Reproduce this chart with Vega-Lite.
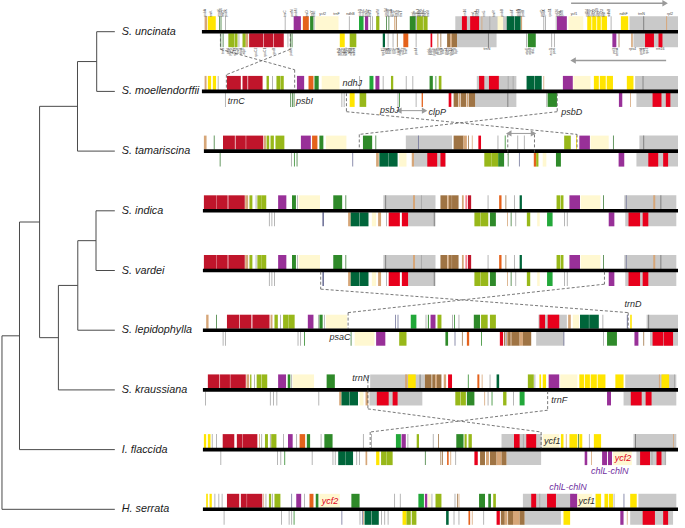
{
  "$schema": "https://vega.github.io/schema/vega-lite/v6.json",
  "width": 685,
  "height": 528,
  "autosize": {"type": "fit", "contains": "padding"},
  "padding": 0,
  "background": "white",
  "config": {"view": {"stroke": null}, "font": "Liberation Sans"},
  "datasets": {
    "species": [
      {"name": "S. uncinata", "t": 1, "tip": 116, "g0": 204, "g1": 685},
      {"name": "S. moellendorffii", "t": 2, "tip": 116, "g0": 204, "g1": 685},
      {"name": "S. tamariscina", "t": 3, "tip": 116, "g0": 206, "g1": 685},
      {"name": "S. indica", "t": 4, "tip": 116, "g0": 205, "g1": 685},
      {"name": "S. vardei", "t": 5, "tip": 116, "g0": 205, "g1": 685},
      {"name": "S. lepidophylla", "t": 6, "tip": 116, "g0": 205, "g1": 685},
      {"name": "S. kraussiana", "t": 7, "tip": 116, "g0": 205, "g1": 685},
      {"name": "I. flaccida", "t": 8, "tip": 116, "g0": 205, "g1": 685},
      {"name": "H. serrata", "t": 9, "tip": 116, "g0": 205, "g1": 685}
    ],
    "tree": [
      {"x1": 97.7, "x2": 116, "y1": 1, "y2": 1},
      {"x1": 97.7, "x2": 116, "y1": 2, "y2": 2},
      {"x1": 78.3, "x2": 116, "y1": 3, "y2": 3},
      {"x1": 97, "x2": 116, "y1": 4, "y2": 4},
      {"x1": 97, "x2": 116, "y1": 5, "y2": 5},
      {"x1": 78.6, "x2": 116, "y1": 6, "y2": 6},
      {"x1": 59, "x2": 116, "y1": 7, "y2": 7},
      {"x1": 19.7, "x2": 116, "y1": 8, "y2": 8},
      {"x1": 2, "x2": 116, "y1": 9, "y2": 9},
      {"x1": 97.7, "x2": 97.7, "y1": 1, "y2": 2},
      {"x1": 78.3, "x2": 78.3, "y1": 1.5, "y2": 3},
      {"x1": 40, "x2": 40, "y1": 2.25, "y2": 6.125},
      {"x1": 97, "x2": 97, "y1": 4, "y2": 5},
      {"x1": 78.6, "x2": 78.6, "y1": 4.5, "y2": 6},
      {"x1": 59, "x2": 59, "y1": 5.25, "y2": 7},
      {"x1": 19.7, "x2": 19.7, "y1": 4.1875, "y2": 8},
      {"x1": 2, "x2": 2, "y1": 6.094, "y2": 9},
      {"x1": 78.3, "x2": 97.7, "y1": 1.5, "y2": 1.5},
      {"x1": 40, "x2": 78.3, "y1": 2.25, "y2": 2.25},
      {"x1": 78.6, "x2": 97, "y1": 4.5, "y2": 4.5},
      {"x1": 59, "x2": 78.6, "y1": 5.25, "y2": 5.25},
      {"x1": 40, "x2": 59, "y1": 6.125, "y2": 6.125},
      {"x1": 19.7, "x2": 40, "y1": 4.1875, "y2": 4.1875},
      {"x1": 2, "x2": 19.7, "y1": 6.094, "y2": 6.094}
    ],
    "genes": [
      {"t":1,"s":"+","c":"ir","a":460,"b":513.3},{"t":1,"s":"+","c":"ir","a":636,"b":685},
      {"t":1,"s":"+","c":"tan","a":206.7,"b":209.3},{"t":1,"s":"+","c":"yellow","a":210,"b":218},{"t":1,"s":"+","c":"dline","a":221.5,"b":222.3},{"t":1,"s":"+","c":"dline","a":222.9,"b":223.7},{"t":1,"s":"+","c":"gline","a":227.5,"b":228.3},{"t":1,"s":"+","c":"gline","a":287.7,"b":288.5},{"t":1,"s":"+","c":"purple","a":296.7,"b":304},{"t":1,"s":"+","c":"orange","a":306,"b":312},{"t":1,"s":"+","c":"green","a":313.3,"b":316.7},{"t":1,"s":"+","c":"gline","a":317,"b":317.8},{"t":1,"s":"+","c":"lyel","a":318.7,"b":342},{"t":1,"s":"+","c":"gline","a":352.5,"b":353.3},{"t":1,"s":"+","c":"lgreen","a":362.7,"b":367.3},{"t":1,"s":"+","c":"purple","a":368.7,"b":372},{"t":1,"s":"+","c":"gline","a":374,"b":374.8},{"t":1,"s":"+","c":"gline","a":376,"b":376.8},{"t":1,"s":"+","c":"ygreen","a":380,"b":383.3},{"t":1,"s":"+","c":"dline","a":390,"b":390.8},{"t":1,"s":"+","c":"dline","a":392.5,"b":393.3},{"t":1,"s":"+","c":"tan","a":398.3,"b":399.3},{"t":1,"s":"+","c":"brown","a":400,"b":400.8},{"t":1,"s":"+","c":"green","a":414,"b":420},{"t":1,"s":"+","c":"gline","a":420.3,"b":421},{"t":1,"s":"+","c":"ygreen","a":421.3,"b":427.3},{"t":1,"s":"+","c":"ygreen","a":427.8,"b":432},{"t":1,"s":"+","c":"red","a":466.7,"b":471.7},{"t":1,"s":"+","c":"red","a":475,"b":484},{"t":1,"s":"+","c":"tan","a":486.5,"b":487.3},{"t":1,"s":"+","c":"gline","a":494.5,"b":495.3},{"t":1,"s":"+","c":"lyel","a":502.7,"b":508.3},{"t":1,"s":"+","c":"dgreen","a":512,"b":519.7},{"t":1,"s":"+","c":"dgreen","a":520,"b":526},{"t":1,"s":"+","c":"tan","a":526.3,"b":527.5},{"t":1,"s":"+","c":"gline","a":549,"b":549.8},{"t":1,"s":"+","c":"gline","a":550.7,"b":551.5},{"t":1,"s":"+","c":"gline","a":561.5,"b":562.3},{"t":1,"s":"+","c":"purple","a":562.7,"b":572.7},{"t":1,"s":"+","c":"lyel","a":574.3,"b":589.3},{"t":1,"s":"+","c":"yellow","a":593.3,"b":597.5},{"t":1,"s":"+","c":"yellow","a":598.3,"b":602.5},{"t":1,"s":"+","c":"yellow","a":603.3,"b":607},{"t":1,"s":"+","c":"yellow","a":607.8,"b":613.3},{"t":1,"s":"+","c":"gline","a":617,"b":617.8},{"t":1,"s":"+","c":"yellow","a":627.3,"b":634.7},{"t":1,"s":"+","c":"gdark","a":650,"b":650.8},{"t":1,"s":"+","c":"tan","a":673,"b":674},
      {"t":1,"s":"-","c":"ir","a":461.7,"b":501.7},{"t":1,"s":"-","c":"ir","a":640,"b":685},
      {"t":1,"s":"-","c":"dline","a":222.7,"b":223.5},{"t":1,"s":"-","c":"dline","a":225,"b":225.8},{"t":1,"s":"-","c":"ygreen","a":230.7,"b":236.7},{"t":1,"s":"-","c":"ygreen","a":237,"b":240},{"t":1,"s":"-","c":"gline","a":241,"b":241.8},{"t":1,"s":"-","c":"ygreen","a":245,"b":248.3},{"t":1,"s":"-","c":"tan","a":248.3,"b":250.7},{"t":1,"s":"-","c":"dred","a":251.7,"b":266},{"t":1,"s":"-","c":"dred","a":266.5,"b":276},{"t":1,"s":"-","c":"dred","a":276.5,"b":286.7},{"t":1,"s":"-","c":"gline","a":290.5,"b":291.3},{"t":1,"s":"-","c":"dline","a":293.3,"b":294.1},{"t":1,"s":"-","c":"dline","a":294.7,"b":295.5},{"t":1,"s":"-","c":"yellow","a":343.3,"b":348.3},{"t":1,"s":"-","c":"ygreen","a":353.3,"b":360},{"t":1,"s":"-","c":"dgreen","a":386.7,"b":389},{"t":1,"s":"-","c":"gline","a":391.7,"b":392.5},{"t":1,"s":"-","c":"gline","a":396.7,"b":397.5},{"t":1,"s":"-","c":"brown","a":401,"b":401.8},{"t":1,"s":"-","c":"orange","a":407.5,"b":412.5},{"t":1,"s":"-","c":"gline","a":420,"b":420.8},{"t":1,"s":"-","c":"red","a":435,"b":436.7},{"t":1,"s":"-","c":"tan","a":441.7,"b":443},{"t":1,"s":"-","c":"brown","a":445,"b":445.8},{"t":1,"s":"-","c":"brown","a":451.7,"b":455},{"t":1,"s":"-","c":"tan","a":455,"b":456.5},{"t":1,"s":"-","c":"brown","a":456.5,"b":461.7},{"t":1,"s":"-","c":"gdark","a":493,"b":493.8},{"t":1,"s":"-","c":"gline","a":531.5,"b":532.3},{"t":1,"s":"-","c":"green","a":533.3,"b":541.3},{"t":1,"s":"-","c":"gline","a":557,"b":557.8},{"t":1,"s":"-","c":"gline","a":559.7,"b":560.5},{"t":1,"s":"-","c":"purple","a":618.7,"b":622.7},{"t":1,"s":"-","c":"brown","a":625,"b":625.8},{"t":1,"s":"-","c":"tan","a":637.7,"b":639.3},{"t":1,"s":"-","c":"red","a":651.7,"b":660.7},{"t":1,"s":"-","c":"red","a":665.3,"b":669.3},
      {"t":2,"s":"+","c":"ir","a":481.7,"b":521.7},{"t":2,"s":"+","c":"ir","a":641.7,"b":685},
      {"t":2,"s":"+","c":"tan","a":206.7,"b":208.7},{"t":2,"s":"+","c":"yellow","a":210,"b":213.3},{"t":2,"s":"+","c":"yellow","a":215,"b":218.3},{"t":2,"s":"+","c":"gline","a":220,"b":220.8},{"t":2,"s":"+","c":"dred","a":229.3,"b":243.3},{"t":2,"s":"+","c":"dred","a":245,"b":250},{"t":2,"s":"+","c":"dred","a":250.7,"b":265.3},{"t":2,"s":"+","c":"ygreen","a":269.3,"b":271.7},{"t":2,"s":"+","c":"gline","a":275,"b":275.8},{"t":2,"s":"+","c":"ygreen","a":279.3,"b":283},{"t":2,"s":"+","c":"ygreen","a":283.3,"b":286.7},{"t":2,"s":"+","c":"purple","a":300,"b":307.3},{"t":2,"s":"+","c":"orange","a":311.7,"b":316.7},{"t":2,"s":"+","c":"green","a":317.7,"b":322},{"t":2,"s":"+","c":"lyel","a":325,"b":343},{"t":2,"s":"+","c":"gline","a":363,"b":363.8},{"t":2,"s":"+","c":"lgreen","a":373.3,"b":377.3},{"t":2,"s":"+","c":"purple","a":379.3,"b":383.3},{"t":2,"s":"+","c":"gline","a":386.7,"b":387.5},{"t":2,"s":"+","c":"ygreen","a":395,"b":397.3},{"t":2,"s":"+","c":"gline","a":410,"b":410.8},{"t":2,"s":"+","c":"gline","a":416.7,"b":417.5},{"t":2,"s":"+","c":"green","a":434,"b":437.3},{"t":2,"s":"+","c":"green","a":440,"b":440.8},{"t":2,"s":"+","c":"ygreen","a":443.3,"b":446},{"t":2,"s":"+","c":"red","a":484,"b":489.3},{"t":2,"s":"+","c":"red","a":494,"b":504},{"t":2,"s":"+","c":"gline","a":513,"b":513.8},{"t":2,"s":"+","c":"gline","a":518,"b":518.8},{"t":2,"s":"+","c":"dgreen","a":532,"b":540},{"t":2,"s":"+","c":"dgreen","a":540.3,"b":547.3},{"t":2,"s":"+","c":"tan","a":549,"b":549.8},{"t":2,"s":"+","c":"purple","a":568.7,"b":578.7},{"t":2,"s":"+","c":"lyel","a":579.3,"b":596.7},{"t":2,"s":"+","c":"yellow","a":600,"b":605},{"t":2,"s":"+","c":"yellow","a":606,"b":612},{"t":2,"s":"+","c":"yellow","a":613,"b":619.3},{"t":2,"s":"+","c":"yellow","a":633.3,"b":640},{"t":2,"s":"+","c":"gdark","a":649.3,"b":650},
      {"t":2,"s":"-","c":"ir","a":480,"b":521.7},{"t":2,"s":"-","c":"ir","a":643,"b":685},
      {"t":2,"s":"-","c":"gline","a":227.3,"b":228.1},{"t":2,"s":"-","c":"dline","a":293.3,"b":294.1},{"t":2,"s":"-","c":"dline","a":295,"b":295.8},{"t":2,"s":"-","c":"dline","a":296.7,"b":297.5},{"t":2,"s":"-","c":"gline","a":345,"b":345.8},{"t":2,"s":"-","c":"gline","a":347.3,"b":348.1},{"t":2,"s":"-","c":"yellow","a":353.3,"b":358.3},{"t":2,"s":"-","c":"ygreen","a":363.3,"b":370},{"t":2,"s":"-","c":"gline","a":401.7,"b":402.5},{"t":2,"s":"-","c":"green","a":403.3,"b":404.1},{"t":2,"s":"-","c":"gline","a":420,"b":420.8},{"t":2,"s":"-","c":"orange","a":426,"b":427.3},{"t":2,"s":"-","c":"red","a":453.3,"b":456},{"t":2,"s":"-","c":"brown","a":458.3,"b":463},{"t":2,"s":"-","c":"tan","a":463.5,"b":465},{"t":2,"s":"-","c":"brown","a":465.5,"b":471},{"t":2,"s":"-","c":"tan","a":471.5,"b":473},{"t":2,"s":"-","c":"brown","a":473.5,"b":480},{"t":2,"s":"-","c":"gdark","a":512.7,"b":513.5},{"t":2,"s":"-","c":"gline","a":552,"b":552.8},{"t":2,"s":"-","c":"green","a":553.3,"b":562.7},{"t":2,"s":"-","c":"purple","a":625.3,"b":628.7},{"t":2,"s":"-","c":"tan","a":636.7,"b":637.5},{"t":2,"s":"-","c":"red","a":659.3,"b":668.3},{"t":2,"s":"-","c":"red","a":672.7,"b":677.3},
      {"t":3,"s":"+","c":"ir","a":410,"b":456.7},{"t":3,"s":"+","c":"ir","a":646,"b":685},
      {"t":3,"s":"+","c":"tan","a":206,"b":208.7},{"t":3,"s":"+","c":"dline","a":216,"b":216.8},{"t":3,"s":"+","c":"dred","a":225.3,"b":237.3},{"t":3,"s":"+","c":"dred","a":238,"b":248.3},{"t":3,"s":"+","c":"dred","a":248.7,"b":266},{"t":3,"s":"+","c":"tan","a":266.7,"b":268.7},{"t":3,"s":"+","c":"ygreen","a":269.3,"b":272},{"t":3,"s":"+","c":"ygreen","a":273.3,"b":276.7},{"t":3,"s":"+","c":"ygreen","a":278.3,"b":287.3},{"t":3,"s":"+","c":"purple","a":304,"b":314},{"t":3,"s":"+","c":"orange","a":315.3,"b":320.7},{"t":3,"s":"+","c":"green","a":322.7,"b":326.7},{"t":3,"s":"+","c":"lyel","a":329.3,"b":350},{"t":3,"s":"+","c":"green","a":366.7,"b":376},{"t":3,"s":"+","c":"dline","a":379.3,"b":380.1},{"t":3,"s":"+","c":"blue","a":422.3,"b":423.1},{"t":3,"s":"+","c":"brown","a":458.3,"b":468.3},{"t":3,"s":"+","c":"tan","a":468.3,"b":471.7},{"t":3,"s":"+","c":"brown","a":473,"b":473.8},{"t":3,"s":"+","c":"tan","a":476.7,"b":477.5},{"t":3,"s":"+","c":"red","a":483.3,"b":486},{"t":3,"s":"+","c":"gline","a":502.7,"b":503.5},{"t":3,"s":"+","c":"green","a":510,"b":510.8},{"t":3,"s":"+","c":"gline","a":522.7,"b":523.5},{"t":3,"s":"+","c":"gline","a":529.3,"b":530.1},{"t":3,"s":"+","c":"ygreen","a":570,"b":576.7},{"t":3,"s":"+","c":"yellow","a":582,"b":582.8},{"t":3,"s":"+","c":"purple","a":585.3,"b":596},{"t":3,"s":"+","c":"lyel","a":596.7,"b":615},{"t":3,"s":"+","c":"dline","a":619.3,"b":620.1},{"t":3,"s":"+","c":"gdark","a":650,"b":650.8},
      {"t":3,"s":"-","c":"ir","a":418.3,"b":450},{"t":3,"s":"-","c":"ir","a":643,"b":685},
      {"t":3,"s":"-","c":"dline","a":222,"b":222.8},{"t":3,"s":"-","c":"gline","a":294,"b":294.8},{"t":3,"s":"-","c":"green","a":297,"b":297.8},{"t":3,"s":"-","c":"dline","a":299.7,"b":300.5},{"t":3,"s":"-","c":"blue","a":356,"b":356.8},{"t":3,"s":"-","c":"tan","a":380,"b":382.7},{"t":3,"s":"-","c":"dgreen","a":383.3,"b":392},{"t":3,"s":"-","c":"dgreen","a":392.3,"b":401.7},{"t":3,"s":"-","c":"lyel","a":403.3,"b":410.7},{"t":3,"s":"-","c":"tan","a":416,"b":418.3},{"t":3,"s":"-","c":"red","a":431.7,"b":441.7},{"t":3,"s":"-","c":"red","a":445,"b":450},{"t":3,"s":"-","c":"ygreen","a":489.3,"b":496.7},{"t":3,"s":"-","c":"ygreen","a":496.7,"b":503.3},{"t":3,"s":"-","c":"green","a":503.3,"b":509.3},{"t":3,"s":"-","c":"dline","a":513,"b":513.8},{"t":3,"s":"-","c":"blue","a":524.3,"b":525.1},{"t":3,"s":"-","c":"orange","a":539.3,"b":541.7},{"t":3,"s":"-","c":"ygreen","a":541.7,"b":544},{"t":3,"s":"-","c":"lyel","a":548.3,"b":552},{"t":3,"s":"-","c":"green","a":561.7,"b":566.7},{"t":3,"s":"-","c":"purple","a":625,"b":630.7},{"t":3,"s":"-","c":"red","a":655,"b":665},{"t":3,"s":"-","c":"red","a":670,"b":675},
      {"t":4,"s":"+","c":"ir","a":387.3,"b":440},{"t":4,"s":"+","c":"ir","a":630.7,"b":683.3},
      {"t":4,"s":"+","c":"dred","a":206,"b":218.3},{"t":4,"s":"+","c":"dred","a":218.6,"b":230},{"t":4,"s":"+","c":"dred","a":230.7,"b":247.3},{"t":4,"s":"+","c":"tan","a":247.7,"b":250.7},{"t":4,"s":"+","c":"ygreen","a":252,"b":255},{"t":4,"s":"+","c":"gline","a":258.3,"b":259.1},{"t":4,"s":"+","c":"ygreen","a":260,"b":264},{"t":4,"s":"+","c":"ygreen","a":264,"b":269},{"t":4,"s":"+","c":"purple","a":281,"b":289.3},{"t":4,"s":"+","c":"green","a":295,"b":299},{"t":4,"s":"+","c":"gline","a":300,"b":300.8},{"t":4,"s":"+","c":"lyel","a":301.7,"b":323.3},{"t":4,"s":"+","c":"green","a":336.7,"b":345.7},{"t":4,"s":"+","c":"dline","a":349,"b":349.8},{"t":4,"s":"+","c":"gdark","a":389.3,"b":390.1},{"t":4,"s":"+","c":"tan","a":417.3,"b":419.3},{"t":4,"s":"+","c":"gline","a":425.3,"b":426.1},{"t":4,"s":"+","c":"brown","a":445,"b":451.7},{"t":4,"s":"+","c":"tan","a":452,"b":453.5},{"t":4,"s":"+","c":"brown","a":453.5,"b":456.5},{"t":4,"s":"+","c":"brown","a":456.7,"b":463.3},{"t":4,"s":"+","c":"tan","a":466.7,"b":468.5},{"t":4,"s":"+","c":"red","a":470.5,"b":471.3},{"t":4,"s":"+","c":"dred","a":472.7,"b":476},{"t":4,"s":"+","c":"gline","a":492.7,"b":493.5},{"t":4,"s":"+","c":"orange","a":504.3,"b":506.7},{"t":4,"s":"+","c":"brown","a":510.7,"b":511.5},{"t":4,"s":"+","c":"gline","a":519.3,"b":520.1},{"t":4,"s":"+","c":"dgreen","a":525,"b":527.3},{"t":4,"s":"+","c":"ygreen","a":562.3,"b":566},{"t":4,"s":"+","c":"ygreen","a":566.5,"b":569.3},{"t":4,"s":"+","c":"purple","a":575.3,"b":586},{"t":4,"s":"+","c":"lyel","a":586.7,"b":606.7},{"t":4,"s":"+","c":"dline","a":609.3,"b":610.1},{"t":4,"s":"+","c":"blue","a":632.3,"b":633.1},{"t":4,"s":"+","c":"tan","a":660,"b":662},{"t":4,"s":"+","c":"gdark","a":667.3,"b":668.1},
      {"t":4,"s":"-","c":"ir","a":412.3,"b":440},{"t":4,"s":"-","c":"ir","a":631.7,"b":683.3},
      {"t":4,"s":"-","c":"gline","a":271.7,"b":272.5},{"t":4,"s":"-","c":"gline","a":274.3,"b":275.1},{"t":4,"s":"-","c":"gline","a":277,"b":277.8},{"t":4,"s":"-","c":"blue","a":325.7,"b":327.3},{"t":4,"s":"-","c":"tan","a":351.7,"b":354.3},{"t":4,"s":"-","c":"dgreen","a":354.3,"b":363.3},{"t":4,"s":"-","c":"dgreen","a":363.6,"b":372.3},{"t":4,"s":"-","c":"lyel","a":375.7,"b":380},{"t":4,"s":"-","c":"tan","a":382,"b":385},{"t":4,"s":"-","c":"gline","a":390,"b":390.8},{"t":4,"s":"-","c":"red","a":392.7,"b":404},{"t":4,"s":"-","c":"red","a":406,"b":412.3},{"t":4,"s":"-","c":"gdark","a":438.3,"b":439.1},{"t":4,"s":"-","c":"ygreen","a":479.3,"b":485},{"t":4,"s":"-","c":"ygreen","a":485.3,"b":493.3},{"t":4,"s":"-","c":"green","a":495,"b":501},{"t":4,"s":"-","c":"tan","a":512.3,"b":513.1},{"t":4,"s":"-","c":"dline","a":516,"b":516.8},{"t":4,"s":"-","c":"gline","a":520.7,"b":521.5},{"t":4,"s":"-","c":"ygreen","a":532.3,"b":535.7},{"t":4,"s":"-","c":"lyel","a":542.7,"b":545.3},{"t":4,"s":"-","c":"lgreen","a":552.7,"b":558.3},{"t":4,"s":"-","c":"gline","a":570,"b":570.8},{"t":4,"s":"-","c":"gline","a":572.7,"b":573.5},{"t":4,"s":"-","c":"purple","a":615,"b":620.7},{"t":4,"s":"-","c":"red","a":635,"b":646.7},{"t":4,"s":"-","c":"red","a":649.3,"b":655},
      {"t":5,"s":"+","c":"ir","a":387.3,"b":440},{"t":5,"s":"+","c":"ir","a":630.7,"b":683.3},
      {"t":5,"s":"+","c":"dred","a":206,"b":218.3},{"t":5,"s":"+","c":"dred","a":218.6,"b":230},{"t":5,"s":"+","c":"dred","a":230.7,"b":247.3},{"t":5,"s":"+","c":"tan","a":247.7,"b":250.7},{"t":5,"s":"+","c":"ygreen","a":252,"b":255},{"t":5,"s":"+","c":"gline","a":258.3,"b":259.1},{"t":5,"s":"+","c":"ygreen","a":260,"b":264},{"t":5,"s":"+","c":"ygreen","a":264,"b":269},{"t":5,"s":"+","c":"purple","a":281,"b":289.3},{"t":5,"s":"+","c":"green","a":295,"b":299},{"t":5,"s":"+","c":"gline","a":300,"b":300.8},{"t":5,"s":"+","c":"lyel","a":301.7,"b":323.3},{"t":5,"s":"+","c":"green","a":336.7,"b":345.7},{"t":5,"s":"+","c":"dline","a":349,"b":349.8},{"t":5,"s":"+","c":"gdark","a":389.3,"b":390.1},{"t":5,"s":"+","c":"tan","a":417.3,"b":419.3},{"t":5,"s":"+","c":"gline","a":425.3,"b":426.1},{"t":5,"s":"+","c":"brown","a":445,"b":451.7},{"t":5,"s":"+","c":"tan","a":452,"b":453.5},{"t":5,"s":"+","c":"brown","a":453.5,"b":456.5},{"t":5,"s":"+","c":"brown","a":456.7,"b":463.3},{"t":5,"s":"+","c":"tan","a":466.7,"b":468.5},{"t":5,"s":"+","c":"red","a":470.5,"b":471.3},{"t":5,"s":"+","c":"dred","a":472.7,"b":476},{"t":5,"s":"+","c":"gline","a":492.7,"b":493.5},{"t":5,"s":"+","c":"orange","a":504.3,"b":506.7},{"t":5,"s":"+","c":"brown","a":510.7,"b":511.5},{"t":5,"s":"+","c":"gline","a":519.3,"b":520.1},{"t":5,"s":"+","c":"dgreen","a":525,"b":527.3},{"t":5,"s":"+","c":"ygreen","a":562.3,"b":566},{"t":5,"s":"+","c":"ygreen","a":566.5,"b":569.3},{"t":5,"s":"+","c":"purple","a":575.3,"b":586},{"t":5,"s":"+","c":"lyel","a":586.7,"b":606.7},{"t":5,"s":"+","c":"dline","a":609.3,"b":610.1},{"t":5,"s":"+","c":"blue","a":632.3,"b":633.1},{"t":5,"s":"+","c":"tan","a":660,"b":662},{"t":5,"s":"+","c":"gdark","a":667.3,"b":668.1},
      {"t":5,"s":"-","c":"ir","a":412.3,"b":440},{"t":5,"s":"-","c":"ir","a":631.7,"b":683.3},
      {"t":5,"s":"-","c":"gline","a":271.7,"b":272.5},{"t":5,"s":"-","c":"gline","a":274.3,"b":275.1},{"t":5,"s":"-","c":"gline","a":277,"b":277.8},{"t":5,"s":"-","c":"blue","a":325.7,"b":327.3},{"t":5,"s":"-","c":"tan","a":351.7,"b":354.3},{"t":5,"s":"-","c":"dgreen","a":354.3,"b":363.3},{"t":5,"s":"-","c":"dgreen","a":363.6,"b":372.3},{"t":5,"s":"-","c":"lyel","a":375.7,"b":380},{"t":5,"s":"-","c":"tan","a":382,"b":385},{"t":5,"s":"-","c":"gline","a":390,"b":390.8},{"t":5,"s":"-","c":"red","a":392.7,"b":404},{"t":5,"s":"-","c":"red","a":406,"b":412.3},{"t":5,"s":"-","c":"gdark","a":438.3,"b":439.1},{"t":5,"s":"-","c":"ygreen","a":479.3,"b":485},{"t":5,"s":"-","c":"ygreen","a":485.3,"b":493.3},{"t":5,"s":"-","c":"green","a":495,"b":501},{"t":5,"s":"-","c":"tan","a":512.3,"b":513.1},{"t":5,"s":"-","c":"dline","a":516,"b":516.8},{"t":5,"s":"-","c":"gline","a":520.7,"b":521.5},{"t":5,"s":"-","c":"ygreen","a":532.3,"b":535.7},{"t":5,"s":"-","c":"lyel","a":542.7,"b":545.3},{"t":5,"s":"-","c":"lgreen","a":552.7,"b":558.3},{"t":5,"s":"-","c":"gline","a":570,"b":570.8},{"t":5,"s":"-","c":"gline","a":572.7,"b":573.5},{"t":5,"s":"-","c":"purple","a":615,"b":620.7},{"t":5,"s":"-","c":"red","a":635,"b":646.7},{"t":5,"s":"-","c":"red","a":649.3,"b":655},
      {"t":6,"s":"+","c":"ir","a":544,"b":572.7},{"t":6,"s":"+","c":"ir","a":653.3,"b":685},
      {"t":6,"s":"+","c":"tan","a":208.3,"b":210.7},{"t":6,"s":"+","c":"dline","a":218.3,"b":219.1},{"t":6,"s":"+","c":"dred","a":229.3,"b":241.7},{"t":6,"s":"+","c":"dred","a":242.3,"b":254},{"t":6,"s":"+","c":"dred","a":255,"b":272.3},{"t":6,"s":"+","c":"tan","a":273.3,"b":275.3},{"t":6,"s":"+","c":"ygreen","a":277.3,"b":280.7},{"t":6,"s":"+","c":"gline","a":283,"b":283.8},{"t":6,"s":"+","c":"ygreen","a":286,"b":291.7},{"t":6,"s":"+","c":"ygreen","a":292,"b":297.7},{"t":6,"s":"+","c":"purple","a":311,"b":316.7},{"t":6,"s":"+","c":"gline","a":321.5,"b":322.3},{"t":6,"s":"+","c":"green","a":322.7,"b":326},{"t":6,"s":"+","c":"gline","a":327.3,"b":328.1},{"t":6,"s":"+","c":"lyel","a":329.3,"b":350.7},{"t":6,"s":"+","c":"blue","a":399.3,"b":400.1},{"t":6,"s":"+","c":"blue","a":401.7,"b":402.5},{"t":6,"s":"+","c":"lgreen","a":415,"b":420.7},{"t":6,"s":"+","c":"gline","a":430,"b":430.8},{"t":6,"s":"+","c":"green","a":432.3,"b":433.3},{"t":6,"s":"+","c":"purple","a":435,"b":440},{"t":6,"s":"+","c":"ygreen","a":442,"b":446},{"t":6,"s":"+","c":"gline","a":456.7,"b":457.5},{"t":6,"s":"+","c":"green","a":458.7,"b":459.5},{"t":6,"s":"+","c":"gline","a":463.3,"b":464.1},{"t":6,"s":"+","c":"green","a":478.7,"b":485},{"t":6,"s":"+","c":"ygreen","a":486,"b":492.7},{"t":6,"s":"+","c":"ygreen","a":495,"b":501},{"t":6,"s":"+","c":"red","a":545,"b":550.7},{"t":6,"s":"+","c":"red","a":553.3,"b":565},{"t":6,"s":"+","c":"tan","a":574,"b":576.7},{"t":6,"s":"+","c":"lyel","a":578.7,"b":585},{"t":6,"s":"+","c":"dgreen","a":586,"b":595},{"t":6,"s":"+","c":"dgreen","a":595.3,"b":605},{"t":6,"s":"+","c":"gline","a":608.7,"b":609.5},{"t":6,"s":"+","c":"blue","a":633.3,"b":634.3},{"t":6,"s":"+","c":"yellow","a":636.7,"b":638.3},{"t":6,"s":"+","c":"gdark","a":655,"b":655.8},
      {"t":6,"s":"-","c":"ir","a":541.7,"b":570},{"t":6,"s":"-","c":"ir","a":656.7,"b":685},
      {"t":6,"s":"-","c":"gline","a":225,"b":225.8},{"t":6,"s":"-","c":"gline","a":227.3,"b":228.1},{"t":6,"s":"-","c":"gline","a":300.7,"b":301.5},{"t":6,"s":"-","c":"gline","a":303.3,"b":304.1},{"t":6,"s":"-","c":"green","a":307.3,"b":308.1},{"t":6,"s":"-","c":"dline","a":354.3,"b":355.1},{"t":6,"s":"-","c":"lyel","a":358.3,"b":378.3},{"t":6,"s":"-","c":"purple","a":380,"b":389.3},{"t":6,"s":"-","c":"ygreen","a":403.3,"b":410.7},{"t":6,"s":"-","c":"green","a":450,"b":452.7},{"t":6,"s":"-","c":"blue","a":459.3,"b":460.1},{"t":6,"s":"-","c":"brown","a":466.7,"b":467.5},{"t":6,"s":"-","c":"orange","a":471.7,"b":474},{"t":6,"s":"-","c":"green","a":486,"b":486.8},{"t":6,"s":"-","c":"red","a":505,"b":508.3},{"t":6,"s":"-","c":"brown","a":509.3,"b":510.5},{"t":6,"s":"-","c":"blue","a":511,"b":511.8},{"t":6,"s":"-","c":"tan","a":512,"b":513.3},{"t":6,"s":"-","c":"brown","a":513.3,"b":516},{"t":6,"s":"-","c":"tan","a":516,"b":516.7},{"t":6,"s":"-","c":"brown","a":516.7,"b":525},{"t":6,"s":"-","c":"tan","a":525,"b":528.3},{"t":6,"s":"-","c":"brown","a":528.3,"b":536.7},{"t":6,"s":"-","c":"blue","a":569.3,"b":570.1},{"t":6,"s":"-","c":"gline","a":609.3,"b":610.1},{"t":6,"s":"-","c":"green","a":613.3,"b":623.3},{"t":6,"s":"-","c":"purple","a":641,"b":645},{"t":6,"s":"-","c":"brown","a":650,"b":650.8},{"t":6,"s":"-","c":"red","a":659.3,"b":670},{"t":6,"s":"-","c":"red","a":670.5,"b":680},
      {"t":7,"s":"+","c":"ir","a":374,"b":429.3},{"t":7,"s":"+","c":"ir","a":631.7,"b":683.3},
      {"t":7,"s":"+","c":"dred","a":210,"b":221.7},{"t":7,"s":"+","c":"dred","a":222.3,"b":232.3},{"t":7,"s":"+","c":"dred","a":232.7,"b":248.3},{"t":7,"s":"+","c":"tan","a":249,"b":251.7},{"t":7,"s":"+","c":"ygreen","a":252.7,"b":254},{"t":7,"s":"+","c":"gline","a":256.7,"b":257.5},{"t":7,"s":"+","c":"ygreen","a":259.3,"b":264},{"t":7,"s":"+","c":"ygreen","a":264.3,"b":270},{"t":7,"s":"+","c":"purple","a":281,"b":289},{"t":7,"s":"+","c":"green","a":290.7,"b":293.3},{"t":7,"s":"+","c":"gline","a":294.3,"b":295.1},{"t":7,"s":"+","c":"lyel","a":295.7,"b":317.3},{"t":7,"s":"+","c":"green","a":330,"b":338.3},{"t":7,"s":"+","c":"tan","a":409.3,"b":411.7},{"t":7,"s":"+","c":"yellow","a":412.3,"b":420},{"t":7,"s":"+","c":"gdark","a":424,"b":424.8},{"t":7,"s":"+","c":"brown","a":429.3,"b":436},{"t":7,"s":"+","c":"brown","a":436.7,"b":440},{"t":7,"s":"+","c":"tan","a":440,"b":441.5},{"t":7,"s":"+","c":"brown","a":441.5,"b":446},{"t":7,"s":"+","c":"tan","a":448.3,"b":450.7},{"t":7,"s":"+","c":"red","a":452.7,"b":456.7},{"t":7,"s":"+","c":"green","a":472.7,"b":473.5},{"t":7,"s":"+","c":"orange","a":482.3,"b":484.3},{"t":7,"s":"+","c":"tan","a":486.7,"b":487.5},{"t":7,"s":"+","c":"gline","a":494.7,"b":495.5},{"t":7,"s":"+","c":"dgreen","a":501.7,"b":504.3},{"t":7,"s":"+","c":"ygreen","a":533.3,"b":539.3},{"t":7,"s":"+","c":"gline","a":540,"b":540.8},{"t":7,"s":"+","c":"yellow","a":545,"b":546.7},{"t":7,"s":"+","c":"yellow","a":548.3,"b":551.7},{"t":7,"s":"+","c":"purple","a":554.3,"b":565},{"t":7,"s":"+","c":"lyel","a":566,"b":583.3},{"t":7,"s":"+","c":"yellow","a":585.3,"b":590},{"t":7,"s":"+","c":"yellow","a":590.8,"b":596},{"t":7,"s":"+","c":"yellow","a":596.8,"b":603},{"t":7,"s":"+","c":"yellow","a":603.8,"b":611.7},{"t":7,"s":"+","c":"yellow","a":621.7,"b":630},{"t":7,"s":"+","c":"tan","a":665.7,"b":666.7},{"t":7,"s":"+","c":"yellow","a":668.3,"b":676},{"t":7,"s":"+","c":"gline","a":681,"b":681.8},
      {"t":7,"s":"-","c":"ir","a":373.3,"b":426.7},{"t":7,"s":"-","c":"ir","a":630,"b":683.3},
      {"t":7,"s":"-","c":"gline","a":207.3,"b":208.1},{"t":7,"s":"-","c":"gline","a":272.7,"b":273.5},{"t":7,"s":"-","c":"gline","a":276,"b":276.8},{"t":7,"s":"-","c":"gline","a":279.3,"b":280.1},{"t":7,"s":"-","c":"gline","a":321.7,"b":322.5},{"t":7,"s":"-","c":"tan","a":342.7,"b":345},{"t":7,"s":"-","c":"dgreen","a":345,"b":352.7},{"t":7,"s":"-","c":"dgreen","a":353,"b":361.7},{"t":7,"s":"-","c":"lyel","a":363.3,"b":367.3},{"t":7,"s":"-","c":"tan","a":369.3,"b":372},{"t":7,"s":"-","c":"red","a":380.7,"b":392.7},{"t":7,"s":"-","c":"red","a":396.7,"b":401.7},{"t":7,"s":"-","c":"ygreen","a":460,"b":465},{"t":7,"s":"-","c":"ygreen","a":465.3,"b":470.7},{"t":7,"s":"-","c":"green","a":471.7,"b":479.3},{"t":7,"s":"-","c":"tan","a":489.3,"b":490.1},{"t":7,"s":"-","c":"gline","a":492.7,"b":493.5},{"t":7,"s":"-","c":"green","a":496.7,"b":497.5},{"t":7,"s":"-","c":"ygreen","a":508.3,"b":511.7},{"t":7,"s":"-","c":"gline","a":518.3,"b":519.1},{"t":7,"s":"-","c":"lgreen","a":525,"b":530},{"t":7,"s":"-","c":"purple","a":613.3,"b":617.3},{"t":7,"s":"-","c":"red","a":637.3,"b":648.3},{"t":7,"s":"-","c":"red","a":652.3,"b":658.3},
      {"t":8,"s":"+","c":"ir","a":506.7,"b":547.3},{"t":8,"s":"+","c":"ir","a":640,"b":683.3},
      {"t":8,"s":"+","c":"yellow","a":206,"b":208.3},{"t":8,"s":"+","c":"yellow","a":210,"b":212.7},{"t":8,"s":"+","c":"gline","a":214,"b":214.8},{"t":8,"s":"+","c":"gline","a":218.3,"b":219.1},{"t":8,"s":"+","c":"dred","a":225,"b":236.7},{"t":8,"s":"+","c":"dred","a":239.3,"b":245},{"t":8,"s":"+","c":"dred","a":245.3,"b":260},{"t":8,"s":"+","c":"tan","a":261.7,"b":262.5},{"t":8,"s":"+","c":"gline","a":264,"b":264.8},{"t":8,"s":"+","c":"ygreen","a":267.7,"b":270.7},{"t":8,"s":"+","c":"gline","a":272.7,"b":273.5},{"t":8,"s":"+","c":"ygreen","a":274,"b":279.3},{"t":8,"s":"+","c":"gline","a":286,"b":286.8},{"t":8,"s":"+","c":"purple","a":291,"b":295.7},{"t":8,"s":"+","c":"gline","a":299.3,"b":300.1},{"t":8,"s":"+","c":"orange","a":302.7,"b":308.3},{"t":8,"s":"+","c":"green","a":310,"b":313.3},{"t":8,"s":"+","c":"gline","a":324,"b":324.8},{"t":8,"s":"+","c":"green","a":327.7,"b":336},{"t":8,"s":"+","c":"gline","a":366.7,"b":367.5},{"t":8,"s":"+","c":"gline","a":375,"b":375.8},{"t":8,"s":"+","c":"lgreen","a":400,"b":405},{"t":8,"s":"+","c":"purple","a":405.7,"b":410},{"t":8,"s":"+","c":"gline","a":411.7,"b":412.5},{"t":8,"s":"+","c":"ygreen","a":421,"b":423.3},{"t":8,"s":"+","c":"gline","a":437.3,"b":438.1},{"t":8,"s":"+","c":"brown","a":442.7,"b":443.5},{"t":8,"s":"+","c":"green","a":461,"b":468.3},{"t":8,"s":"+","c":"ygreen","a":469.3,"b":471.5},{"t":8,"s":"+","c":"ygreen","a":473.3,"b":476.7},{"t":8,"s":"+","c":"red","a":519.3,"b":525},{"t":8,"s":"+","c":"gline","a":528.3,"b":529.1},{"t":8,"s":"+","c":"red","a":531.7,"b":541.7},{"t":8,"s":"+","c":"lyel","a":548.3,"b":565},{"t":8,"s":"+","c":"yellow","a":566.7,"b":569.3},{"t":8,"s":"+","c":"tan","a":571.7,"b":572.5},{"t":8,"s":"+","c":"yellow","a":575.3,"b":583.3},{"t":8,"s":"+","c":"dline","a":584,"b":584.8},{"t":8,"s":"+","c":"yellow","a":585.3,"b":588.3},{"t":8,"s":"+","c":"gline","a":595,"b":595.8},{"t":8,"s":"+","c":"yellow","a":600,"b":607.3},{"t":8,"s":"+","c":"gdark","a":641.7,"b":642.5},{"t":8,"s":"+","c":"tan","a":680,"b":680.8},
      {"t":8,"s":"-","c":"ir","a":511.7,"b":546.7},{"t":8,"s":"-","c":"ir","a":643,"b":673},
      {"t":8,"s":"-","c":"gline","a":222.7,"b":223.5},{"t":8,"s":"-","c":"gline","a":280,"b":280.8},{"t":8,"s":"-","c":"gline","a":283.3,"b":284.1},{"t":8,"s":"-","c":"green","a":287.3,"b":288.1},{"t":8,"s":"-","c":"gline","a":315,"b":315.8},{"t":8,"s":"-","c":"gline","a":336,"b":336.8},{"t":8,"s":"-","c":"gline","a":338.3,"b":339.1},{"t":8,"s":"-","c":"dgreen","a":341.7,"b":349.3},{"t":8,"s":"-","c":"dgreen","a":349.6,"b":356.7},{"t":8,"s":"-","c":"gline","a":360,"b":360.8},{"t":8,"s":"-","c":"gline","a":362.7,"b":363.5},{"t":8,"s":"-","c":"tan","a":369.3,"b":371},{"t":8,"s":"-","c":"yellow","a":380,"b":383.3},{"t":8,"s":"-","c":"ygreen","a":385,"b":390.7},{"t":8,"s":"-","c":"ygreen","a":391,"b":396.7},{"t":8,"s":"-","c":"dline","a":429.3,"b":430.1},{"t":8,"s":"-","c":"brown","a":445,"b":445.8},{"t":8,"s":"-","c":"brown","a":446.7,"b":447.5},{"t":8,"s":"-","c":"orange","a":451.7,"b":453.3},{"t":8,"s":"-","c":"tan","a":455,"b":455.8},{"t":8,"s":"-","c":"gline","a":460,"b":460.8},{"t":8,"s":"-","c":"red","a":479.3,"b":482.7},{"t":8,"s":"-","c":"brown","a":485,"b":490},{"t":8,"s":"-","c":"tan","a":491,"b":494},{"t":8,"s":"-","c":"brown","a":495,"b":501.7},{"t":8,"s":"-","c":"tan","a":501.7,"b":506.7},{"t":8,"s":"-","c":"brown","a":506.7,"b":511.7},{"t":8,"s":"-","c":"purple","a":590.7,"b":593.3},{"t":8,"s":"-","c":"tan","a":597.3,"b":598.1},{"t":8,"s":"-","c":"purple","a":608.3,"b":613.3},{"t":8,"s":"-","c":"purple","a":614.3,"b":618.3},{"t":8,"s":"-","c":"lyel","a":619.3,"b":638.3},{"t":8,"s":"-","c":"red","a":646.7,"b":656.7},{"t":8,"s":"-","c":"gline","a":658.3,"b":659.1},{"t":8,"s":"-","c":"red","a":663.3,"b":668.3},{"t":8,"s":"-","c":"gline","a":671.7,"b":672.5},
      {"t":9,"s":"+","c":"ir","a":528.3,"b":580},{"t":9,"s":"+","c":"ir","a":645,"b":683.3},
      {"t":9,"s":"+","c":"yellow","a":208.3,"b":210},{"t":9,"s":"+","c":"yellow","a":211.7,"b":214},{"t":9,"s":"+","c":"gline","a":216.7,"b":217.5},{"t":9,"s":"+","c":"gline","a":220.7,"b":221.5},{"t":9,"s":"+","c":"gline","a":224,"b":224.8},{"t":9,"s":"+","c":"dred","a":229.3,"b":241.7},{"t":9,"s":"+","c":"dred","a":243.3,"b":249.3},{"t":9,"s":"+","c":"dred","a":249.6,"b":265},{"t":9,"s":"+","c":"tan","a":266,"b":266.8},{"t":9,"s":"+","c":"gline","a":268.3,"b":269.1},{"t":9,"s":"+","c":"ygreen","a":271.7,"b":274},{"t":9,"s":"+","c":"gline","a":275,"b":275.8},{"t":9,"s":"+","c":"ygreen","a":277.3,"b":283.3},{"t":9,"s":"+","c":"blue","a":294.3,"b":295.1},{"t":9,"s":"+","c":"purple","a":299.3,"b":304.3},{"t":9,"s":"+","c":"gline","a":307.3,"b":308.1},{"t":9,"s":"+","c":"orange","a":312.7,"b":316.7},{"t":9,"s":"+","c":"green","a":319,"b":321.7},{"t":9,"s":"+","c":"lyel","a":322.7,"b":343.3},{"t":9,"s":"+","c":"green","a":355,"b":363.3},{"t":9,"s":"+","c":"gline","a":398.3,"b":399.1},{"t":9,"s":"+","c":"gline","a":404,"b":404.8},{"t":9,"s":"+","c":"lgreen","a":422.7,"b":428.3},{"t":9,"s":"+","c":"purple","a":429.3,"b":431.7},{"t":9,"s":"+","c":"lyel","a":432.3,"b":435},{"t":9,"s":"+","c":"gline","a":436,"b":436.8},{"t":9,"s":"+","c":"ygreen","a":440,"b":446},{"t":9,"s":"+","c":"gline","a":459.3,"b":460.1},{"t":9,"s":"+","c":"brown","a":461.7,"b":462.5},{"t":9,"s":"+","c":"tan","a":463.3,"b":464.1},{"t":9,"s":"+","c":"green","a":484,"b":490},{"t":9,"s":"+","c":"green","a":493.3,"b":496},{"t":9,"s":"+","c":"ygreen","a":498.3,"b":501},{"t":9,"s":"+","c":"red","a":536.7,"b":541.7},{"t":9,"s":"+","c":"gline","a":545,"b":545.8},{"t":9,"s":"+","c":"red","a":552.7,"b":561.7},{"t":9,"s":"+","c":"purple","a":576,"b":583.3},{"t":9,"s":"+","c":"lyel","a":583.3,"b":598.3},{"t":9,"s":"+","c":"yellow","a":601.7,"b":607.3},{"t":9,"s":"+","c":"yellow","a":610.7,"b":614.5},{"t":9,"s":"+","c":"yellow","a":615.3,"b":619.3},{"t":9,"s":"+","c":"gline","a":620,"b":620.8},{"t":9,"s":"+","c":"blue","a":630,"b":630.8},{"t":9,"s":"+","c":"yellow","a":636.7,"b":643.3},
      {"t":9,"s":"-","c":"ir","a":530,"b":566.7},{"t":9,"s":"-","c":"ir","a":636.7,"b":680},
      {"t":9,"s":"-","c":"gline","a":226,"b":226.8},{"t":9,"s":"-","c":"gline","a":284,"b":284.8},{"t":9,"s":"-","c":"gline","a":291.7,"b":292.5},{"t":9,"s":"-","c":"gline","a":294.3,"b":295.1},{"t":9,"s":"-","c":"green","a":296.7,"b":297.5},{"t":9,"s":"-","c":"blue","a":345,"b":345.8},{"t":9,"s":"-","c":"gline","a":363.3,"b":364.1},{"t":9,"s":"-","c":"blue","a":365.7,"b":366.5},{"t":9,"s":"-","c":"tan","a":366.9,"b":367.7},{"t":9,"s":"-","c":"dgreen","a":368.3,"b":375},{"t":9,"s":"-","c":"dgreen","a":375.3,"b":382.7},{"t":9,"s":"-","c":"gline","a":385,"b":385.8},{"t":9,"s":"-","c":"gline","a":388.3,"b":389.1},{"t":9,"s":"-","c":"gline","a":391.7,"b":392.5},{"t":9,"s":"-","c":"yellow","a":406.7,"b":410.7},{"t":9,"s":"-","c":"ygreen","a":410.7,"b":415},{"t":9,"s":"-","c":"ygreen","a":416,"b":420.7},{"t":9,"s":"-","c":"dgreen","a":450.7,"b":453.3},{"t":9,"s":"-","c":"gline","a":458.3,"b":459.1},{"t":9,"s":"-","c":"gline","a":463.3,"b":464.1},{"t":9,"s":"-","c":"orange","a":473.3,"b":475},{"t":9,"s":"-","c":"tan","a":476.7,"b":477.5},{"t":9,"s":"-","c":"gline","a":488.3,"b":489.1},{"t":9,"s":"-","c":"red","a":501.7,"b":505},{"t":9,"s":"-","c":"brown","a":506,"b":510},{"t":9,"s":"-","c":"tan","a":510,"b":512.7},{"t":9,"s":"-","c":"brown","a":513.3,"b":518.3},{"t":9,"s":"-","c":"tan","a":518.3,"b":525},{"t":9,"s":"-","c":"brown","a":525,"b":530},{"t":9,"s":"-","c":"yellow","a":569.3,"b":576},{"t":9,"s":"-","c":"purple","a":626.7,"b":630},{"t":9,"s":"-","c":"tan","a":633.3,"b":634.1},{"t":9,"s":"-","c":"red","a":649.3,"b":661.7},{"t":9,"s":"-","c":"red","a":670,"b":675}
    ],
    "links": [
      {"x1": 222.7, "x2": 222.7, "y1": 1.03, "y2": 1.295},
      {"x1": 293.3, "x2": 293.3, "y1": 1.03, "y2": 1.295},
      {"x1": 222.7, "x2": 297.7, "y1": 1.295, "y2": 1.637},
      {"x1": 293.3, "x2": 228.7, "y1": 1.295, "y2": 1.72},
      {"x1": 228.7, "x2": 228.7, "y1": 1.72, "y2": 1.97},
      {"x1": 297.7, "x2": 297.7, "y1": 1.637, "y2": 1.97},
      {"x1": 350, "x2": 350, "y1": 2.03, "y2": 2.34},
      {"x1": 563, "x2": 563, "y1": 2.03, "y2": 2.34},
      {"x1": 350, "x2": 583, "y1": 2.34, "y2": 2.72},
      {"x1": 563, "x2": 363, "y1": 2.34, "y2": 2.72},
      {"x1": 363, "x2": 363, "y1": 2.72, "y2": 2.97},
      {"x1": 583, "x2": 583, "y1": 2.72, "y2": 2.97},
      {"x1": 513, "x2": 513, "y1": 2.72, "y2": 3.06},
      {"x1": 540, "x2": 540, "y1": 2.72, "y2": 3.06},
      {"x1": 324, "x2": 324, "y1": 5.02, "y2": 5.312},
      {"x1": 610.7, "x2": 610.7, "y1": 5.02, "y2": 5.229},
      {"x1": 324, "x2": 634.7, "y1": 5.312, "y2": 5.705},
      {"x1": 610.7, "x2": 351.7, "y1": 5.229, "y2": 5.705},
      {"x1": 351.7, "x2": 351.7, "y1": 5.705, "y2": 5.98},
      {"x1": 634.7, "x2": 634.7, "y1": 5.705, "y2": 5.98},
      {"x1": 371.7, "x2": 371.7, "y1": 6.754, "y2": 7.318},
      {"x1": 553.3, "x2": 553.3, "y1": 7.02, "y2": 7.34},
      {"x1": 371.7, "x2": 546.7, "y1": 7.318, "y2": 7.705},
      {"x1": 553.3, "x2": 374, "y1": 7.34, "y2": 7.705},
      {"x1": 374, "x2": 374, "y1": 7.705, "y2": 7.98},
      {"x1": 546.7, "x2": 546.7, "y1": 7.705, "y2": 7.98}
    ],
    "arrows": [
      {"a": 577, "b": 672, "t": 0.524, "dir": "r", "w": 1.5},
      {"a": 579, "b": 673, "t": 1.482, "dir": "l", "w": 1.5},
      {"a": 403, "b": 429, "t": 2.322, "dir": "both", "w": 1},
      {"a": 514, "b": 539, "t": 2.704, "dir": "both", "w": 1}
    ],
    "notes": [
      {"x": 230, "t": 2.156, "txt": "trnC", "k": "k"},
      {"x": 299, "t": 2.156, "txt": "psbI", "k": "k"},
      {"x": 346, "t": 1.854, "txt": "ndhJ", "k": "k"},
      {"x": 384, "t": 2.305, "txt": "psbJ", "k": "k"},
      {"x": 433, "t": 2.34, "txt": "clpP", "k": "k"},
      {"x": 567, "t": 2.34, "txt": "psbD", "k": "k"},
      {"x": 631, "t": 5.559, "txt": "trnD", "k": "k"},
      {"x": 333, "t": 6.112, "txt": "psaC", "k": "k"},
      {"x": 356, "t": 6.804, "txt": "trnN", "k": "k"},
      {"x": 557, "t": 7.173, "txt": "trnF", "k": "k"},
      {"x": 549.5, "t": 7.861, "txt": "ycf1", "k": "k"},
      {"x": 621, "t": 8.146, "txt": "ycf2", "k": "r"},
      {"x": 597, "t": 8.363, "txt": "chlL-chlN", "k": "p"},
      {"x": 325, "t": 8.861, "txt": "ycf2", "k": "r"},
      {"x": 555, "t": 8.626, "txt": "chlL-chlN", "k": "p"},
      {"x": 584.5, "t": 8.861, "txt": "ycf1", "k": "k"}
    ],
    "tiny": [
      {"x":207,"p":"a","n":"psbA"},{"x":213,"p":"a","n":"trnK"},{"x":221,"p":"a","n":"matK"},{"x":223.5,"p":"a","n":"rps16"},{"x":225.7,"p":"a","n":"trnQ"},{"x":227.9,"p":"a","n":"psbK"},{"x":287.8,"p":"a","n":"trnC"},{"x":295,"p":"a","n":"petN"},{"x":299,"p":"a","n":"psbM"},{"x":310,"p":"a","n":"trnD"},{"x":315,"p":"a","n":"trnY"},{"x":317.2,"p":"a","n":"trnE"},{"x":364,"p":"a","n":"psbD"},{"x":366.5,"p":"a","n":"psbC"},{"x":369.5,"p":"a","n":"trnS"},{"x":371.8,"p":"a","n":"psbZ"},{"x":374.1,"p":"a","n":"trnG"},{"x":382,"p":"a","n":"trnfM"},{"x":390,"p":"a","n":"rps14"},{"x":392.5,"p":"a","n":"psaB"},{"x":395,"p":"a","n":"psaA"},{"x":397.5,"p":"a","n":"ycf3"},{"x":400,"p":"a","n":"trnS"},{"x":402.5,"p":"a","n":"rps4"},{"x":405,"p":"a","n":"trnT"},{"x":417,"p":"a","n":"trnL"},{"x":419.5,"p":"a","n":"trnF"},{"x":422,"p":"a","n":"ndhJ"},{"x":424.5,"p":"a","n":"ndhK"},{"x":427,"p":"a","n":"ndhC"},{"x":429.5,"p":"a","n":"trnV"},{"x":432,"p":"a","n":"trnM"},{"x":470,"p":"a","n":"rrn16"},{"x":478,"p":"a","n":"trnI"},{"x":480.5,"p":"a","n":"trnA"},{"x":483,"p":"a","n":"rrn23"},{"x":489,"p":"a","n":"rrn5"},{"x":499,"p":"a","n":"trnR"},{"x":507,"p":"a","n":"psbB"},{"x":517,"p":"a","n":"psbT"},{"x":523,"p":"a","n":"psbN"},{"x":525.5,"p":"a","n":"psbH"},{"x":528,"p":"a","n":"petB"},{"x":547.5,"p":"a","n":"petD"},{"x":550,"p":"a","n":"rpoA"},{"x":555.5,"p":"a","n":"rps11"},{"x":563,"p":"a","n":"rpl36"},{"x":565.5,"p":"a","n":"infA"},{"x":568,"p":"a","n":"rps8"},{"x":593,"p":"a","n":"rpl14"},{"x":595.5,"p":"a","n":"rpl16"},{"x":598,"p":"a","n":"rps3"},{"x":600.5,"p":"a","n":"rpl22"},{"x":603,"p":"a","n":"rps19"},{"x":605.5,"p":"a","n":"rpl2"},{"x":608,"p":"a","n":"rpl23"},{"x":610.5,"p":"a","n":"trnI"},{"x":615,"p":"a","n":"ndhB"},
      {"x":225,"p":"b","n":"trnS"},{"x":230,"p":"b","n":"psbI"},{"x":232.5,"p":"b","n":"psbK"},{"x":235,"p":"b","n":"trnQ"},{"x":237.5,"p":"b","n":"rps16"},{"x":240,"p":"b","n":"trnR"},{"x":243,"p":"b","n":"atpA"},{"x":247,"p":"b","n":"atpF"},{"x":259,"p":"b","n":"rpoC2"},{"x":268,"p":"b","n":"rpoC1"},{"x":277,"p":"b","n":"rpoB"},{"x":294,"p":"b","n":"psbK"},{"x":342,"p":"b","n":"ndhD"},{"x":345,"p":"b","n":"psaC"},{"x":347.5,"p":"b","n":"ndhE"},{"x":350,"p":"b","n":"ndhG"},{"x":352.5,"p":"b","n":"ndhI"},{"x":355,"p":"b","n":"ndhA"},{"x":357.5,"p":"b","n":"ndhH"},{"x":387,"p":"b","n":"rps15"},{"x":389.5,"p":"b","n":"chlB"},{"x":392,"p":"b","n":"trnN"},{"x":394.5,"p":"b","n":"trnR"},{"x":397,"p":"b","n":"rrn5"},{"x":399.5,"p":"b","n":"trnL"},{"x":402,"p":"b","n":"ccsA"},{"x":404.5,"p":"b","n":"ndhF"},{"x":407,"p":"b","n":"rpl32"},{"x":410,"p":"b","n":"trnP"},{"x":420,"p":"b","n":"psbJ"},{"x":433,"p":"b","n":"psbL"},{"x":435.5,"p":"b","n":"psbF"},{"x":438,"p":"b","n":"psbE"},{"x":440.5,"p":"b","n":"petL"},{"x":443,"p":"b","n":"petG"},{"x":445.5,"p":"b","n":"trnW"},{"x":448,"p":"b","n":"trnP"},{"x":450.5,"p":"b","n":"psaJ"},{"x":453,"p":"b","n":"rpl33"},{"x":455.5,"p":"b","n":"rps18"},{"x":458,"p":"b","n":"rpl20"},{"x":460.5,"p":"b","n":"clpP"},{"x":532,"p":"b","n":"atpE"},{"x":535,"p":"b","n":"atpB"},{"x":538,"p":"b","n":"rbcL"},{"x":557,"p":"b","n":"accD"},{"x":560,"p":"b","n":"psaI"},{"x":620,"p":"b","n":"ycf4"},{"x":623,"p":"b","n":"cemA"},{"x":648,"p":"b","n":"petA"},{"x":651,"p":"b","n":"trnH"},{"x":654,"p":"b","n":"rps7"},
      {"x":326,"p":"ha","n":"ycf2"},{"x":340,"p":"ha","n":"trnF"},{"x":354,"p":"ha","n":"ndhB"},{"x":580,"p":"ha","n":"ycf1"},{"x":630,"p":"ha","n":"ndhF"},{"x":648,"p":"ha","n":"trnN"},{"x":677,"p":"ha","n":"rpl2"},
      {"x":492,"p":"hb","n":"trnN"},{"x":639,"p":"hb","n":"rps4"},{"x":667,"p":"hb","n":"rrn16"}
    ]
  },
  "layer": [
    {
      "data": {"name": "tree"},
      "mark": {"type": "rule", "color": "#4a4a4a", "strokeWidth": 1},
      "encoding": {
        "x": {"field": "x1", "type": "quantitative", "scale": {"domain": [0, 685], "nice": false, "zero": false}, "axis": null},
        "x2": {"field": "x2"},
        "y": {"field": "y1", "type": "quantitative", "scale": {"domain": [0.469, 9.313], "reverse": true, "nice": false, "zero": false}, "axis": null},
        "y2": {"field": "y2"}
      }
    },
    {
      "data": {"name": "species"},
      "mark": {"type": "text", "align": "left", "baseline": "middle", "dx": 7, "fontSize": 10.8, "fontStyle": "italic", "color": "#1a1a1a"},
      "encoding": {
        "x": {"field": "tip", "type": "quantitative", "scale": {"domain": [0, 685], "nice": false, "zero": false}, "axis": null},
        "y": {"field": "t", "type": "quantitative", "scale": {"domain": [0.469, 9.313], "reverse": true, "nice": false, "zero": false}, "axis": null},
        "text": {"field": "name"}
      }
    },
    {
      "data": {"name": "genes"},
      "transform": [{"filter": "datum.s == '+'"}],
      "mark": {"type": "rule", "strokeWidth": 14, "yOffset": -8.5, "strokeCap": "butt"},
      "encoding": {
        "x": {"field": "a", "type": "quantitative", "scale": {"domain": [0, 685], "nice": false, "zero": false}, "axis": null},
        "x2": {"field": "b"},
        "y": {"field": "t", "type": "quantitative", "scale": {"domain": [0.469, 9.313], "reverse": true, "nice": false, "zero": false}, "axis": null},
        "color": {"field": "c", "type": "nominal", "legend": null, "scale": {"domain": ["ir","dred","red","lyel","yellow","ygreen","green","lgreen","dgreen","purple","orange","tan","brown","gline","gdark","dline","blue"], "range": ["#C9C9C9","#C0152B","#E8001C","#FFF8D1","#FFE500","#98B81A","#2F8A2A","#22A83A","#00653A","#983098","#E4621C","#D6A678","#9F7444","#A3A3A3","#6F6F6F","#3F7E3A","#707399"]}}
      }
    },
    {
      "data": {"name": "genes"},
      "transform": [{"filter": "datum.s == '-'"}],
      "mark": {"type": "rule", "strokeWidth": 14, "yOffset": 8.5, "strokeCap": "butt"},
      "encoding": {
        "x": {"field": "a", "type": "quantitative", "scale": {"domain": [0, 685], "nice": false, "zero": false}, "axis": null},
        "x2": {"field": "b"},
        "y": {"field": "t", "type": "quantitative", "scale": {"domain": [0.469, 9.313], "reverse": true, "nice": false, "zero": false}, "axis": null},
        "color": {"field": "c", "type": "nominal", "legend": null, "scale": {"domain": ["ir","dred","red","lyel","yellow","ygreen","green","lgreen","dgreen","purple","orange","tan","brown","gline","gdark","dline","blue"], "range": ["#C9C9C9","#C0152B","#E8001C","#FFF8D1","#FFE500","#98B81A","#2F8A2A","#22A83A","#00653A","#983098","#E4621C","#D6A678","#9F7444","#A3A3A3","#6F6F6F","#3F7E3A","#707399"]}}
      }
    },
    {
      "data": {"name": "species"},
      "mark": {"type": "rule", "color": "#000000", "strokeWidth": 3.6, "strokeCap": "butt"},
      "encoding": {
        "x": {"field": "g0", "type": "quantitative", "scale": {"domain": [0, 685], "nice": false, "zero": false}, "axis": null},
        "x2": {"field": "g1"},
        "y": {"field": "t", "type": "quantitative", "scale": {"domain": [0.469, 9.313], "reverse": true, "nice": false, "zero": false}, "axis": null}
      }
    },
    {
      "data": {"name": "links"},
      "mark": {"type": "rule", "color": "#555555", "strokeWidth": 0.8, "strokeDash": [3, 2]},
      "encoding": {
        "x": {"field": "x1", "type": "quantitative", "scale": {"domain": [0, 685], "nice": false, "zero": false}, "axis": null},
        "x2": {"field": "x2"},
        "y": {"field": "y1", "type": "quantitative", "scale": {"domain": [0.469, 9.313], "reverse": true, "nice": false, "zero": false}, "axis": null},
        "y2": {"field": "y2"}
      }
    },
    {
      "data": {"name": "arrows"},
      "mark": {"type": "rule", "color": "#9a9a9a"},
      "encoding": {
        "x": {"field": "a", "type": "quantitative", "scale": {"domain": [0, 685], "nice": false, "zero": false}, "axis": null},
        "x2": {"field": "b"},
        "y": {"field": "t", "type": "quantitative", "scale": {"domain": [0.469, 9.313], "reverse": true, "nice": false, "zero": false}, "axis": null},
        "strokeWidth": {"field": "w", "type": "quantitative", "scale": null}
      }
    },
    {
      "data": {"name": "arrows"},
      "transform": [{"filter": "datum.dir == 'r' || datum.dir == 'both'"}],
      "mark": {"type": "point", "shape": "triangle-right", "filled": true, "color": "#9a9a9a", "opacity": 1, "size": 40},
      "encoding": {
        "x": {"field": "b", "type": "quantitative", "scale": {"domain": [0, 685], "nice": false, "zero": false}, "axis": null},
        "y": {"field": "t", "type": "quantitative", "scale": {"domain": [0.469, 9.313], "reverse": true, "nice": false, "zero": false}, "axis": null}
      }
    },
    {
      "data": {"name": "arrows"},
      "transform": [{"filter": "datum.dir == 'l' || datum.dir == 'both'"}],
      "mark": {"type": "point", "shape": "triangle-left", "filled": true, "color": "#9a9a9a", "opacity": 1, "size": 40},
      "encoding": {
        "x": {"field": "a", "type": "quantitative", "scale": {"domain": [0, 685], "nice": false, "zero": false}, "axis": null},
        "y": {"field": "t", "type": "quantitative", "scale": {"domain": [0.469, 9.313], "reverse": true, "nice": false, "zero": false}, "axis": null}
      }
    },
    {
      "data": {"name": "notes"},
      "transform": [{"filter": "datum.k == 'k'"}],
      "mark": {"type": "text", "align": "left", "baseline": "middle", "fontSize": 9, "fontStyle": "italic", "color": "#2b2b2b"},
      "encoding": {
        "x": {"field": "x", "type": "quantitative", "scale": {"domain": [0, 685], "nice": false, "zero": false}, "axis": null},
        "y": {"field": "t", "type": "quantitative", "scale": {"domain": [0.469, 9.313], "reverse": true, "nice": false, "zero": false}, "axis": null},
        "text": {"field": "txt"}
      }
    },
    {
      "data": {"name": "notes"},
      "transform": [{"filter": "datum.k == 'r'"}],
      "mark": {"type": "text", "align": "left", "baseline": "middle", "fontSize": 9, "fontStyle": "italic", "color": "#E0001B"},
      "encoding": {
        "x": {"field": "x", "type": "quantitative", "scale": {"domain": [0, 685], "nice": false, "zero": false}, "axis": null},
        "y": {"field": "t", "type": "quantitative", "scale": {"domain": [0.469, 9.313], "reverse": true, "nice": false, "zero": false}, "axis": null},
        "text": {"field": "txt"}
      }
    },
    {
      "data": {"name": "notes"},
      "transform": [{"filter": "datum.k == 'p'"}],
      "mark": {"type": "text", "align": "left", "baseline": "middle", "fontSize": 9, "fontStyle": "italic", "color": "#7030A0"},
      "encoding": {
        "x": {"field": "x", "type": "quantitative", "scale": {"domain": [0, 685], "nice": false, "zero": false}, "axis": null},
        "y": {"field": "t", "type": "quantitative", "scale": {"domain": [0.469, 9.313], "reverse": true, "nice": false, "zero": false}, "axis": null},
        "text": {"field": "txt"}
      }
    },
    {
      "data": {"name": "tiny"},
      "transform": [{"filter": "datum.p == 'a'"}],
      "mark": {"type": "text", "angle": 270, "align": "left", "baseline": "middle", "fontSize": 3.4, "color": "#444444", "yOffset": -15},
      "encoding": {
        "x": {"field": "x", "type": "quantitative", "scale": {"domain": [0, 685], "nice": false, "zero": false}, "axis": null},
        "y": {"datum": 1, "type": "quantitative", "scale": {"domain": [0.469, 9.313], "reverse": true, "nice": false, "zero": false}, "axis": null},
        "text": {"field": "n"}
      }
    },
    {
      "data": {"name": "tiny"},
      "transform": [{"filter": "datum.p == 'b'"}],
      "mark": {"type": "text", "angle": 270, "align": "right", "baseline": "middle", "fontSize": 3.4, "color": "#444444", "yOffset": 16},
      "encoding": {
        "x": {"field": "x", "type": "quantitative", "scale": {"domain": [0, 685], "nice": false, "zero": false}, "axis": null},
        "y": {"datum": 1, "type": "quantitative", "scale": {"domain": [0.469, 9.313], "reverse": true, "nice": false, "zero": false}, "axis": null},
        "text": {"field": "n"}
      }
    },
    {
      "data": {"name": "tiny"},
      "transform": [{"filter": "datum.p == 'ha'"}],
      "mark": {"type": "text", "align": "center", "baseline": "middle", "fontSize": 3.6, "color": "#444444", "yOffset": -17.5},
      "encoding": {
        "x": {"field": "x", "type": "quantitative", "scale": {"domain": [0, 685], "nice": false, "zero": false}, "axis": null},
        "y": {"datum": 1, "type": "quantitative", "scale": {"domain": [0.469, 9.313], "reverse": true, "nice": false, "zero": false}, "axis": null},
        "text": {"field": "n"}
      }
    },
    {
      "data": {"name": "tiny"},
      "transform": [{"filter": "datum.p == 'hb'"}],
      "mark": {"type": "text", "align": "center", "baseline": "middle", "fontSize": 3.6, "color": "#444444", "yOffset": 17},
      "encoding": {
        "x": {"field": "x", "type": "quantitative", "scale": {"domain": [0, 685], "nice": false, "zero": false}, "axis": null},
        "y": {"datum": 1, "type": "quantitative", "scale": {"domain": [0.469, 9.313], "reverse": true, "nice": false, "zero": false}, "axis": null},
        "text": {"field": "n"}
      }
    }
  ]
}
